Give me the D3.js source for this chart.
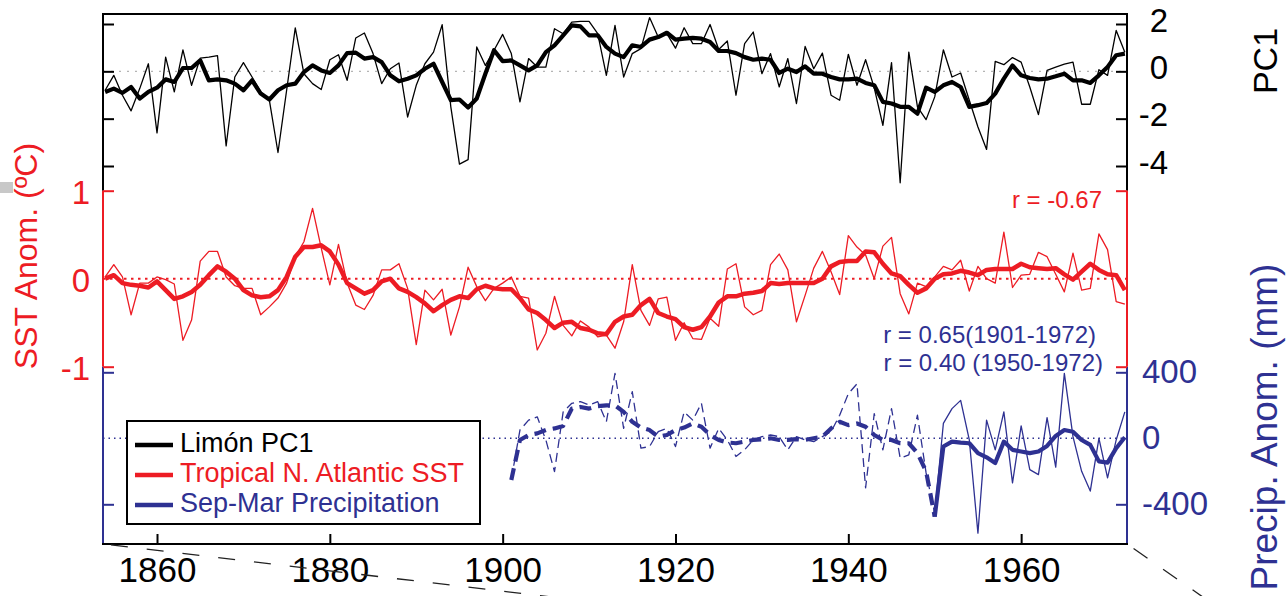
<!DOCTYPE html>
<html>
<head>
<meta charset="utf-8">
<script src="https://cdn.jsdelivr.net/npm/d3@7"></script>
<style>
  body { margin: 0; background: #fff; }
  svg { display: block; font-family: "Liberation Sans", Arial, sans-serif; }
</style>
</head>
<body>
<script>
// annual series start in 1854, precipitation record starts in 1901
const firstYear = 1854;
const precipFirstYear = 1901;
const precipSolidFrom = 1950;

const pc1Annual = [
  -0.80, -0.17, -1.01, -1.67, -0.73, 0.32, -2.60, 0.60, -0.87, 0.91,
  -0.59, 0.56, 0.60, 0.66, -3.15, -0.24, 0.37, -0.24, -0.87, -1.22,
  -3.43, -0.80, 1.84, -0.10, -0.52, -0.77, 0.49, 0.70, -0.38, 1.41,
  1.62, 0.75, -0.52, 0.11, 0.35, -1.93, -0.59, 0.32, 0.81, 1.97,
  -1.50, -3.92, -3.73, 1.03, 0.25, 0.89, 1.56, 0.75, -1.29, 0.54,
  0.18, 0.18, 1.80, 1.59, 2.08, 2.11, 2.11, 1.59, -0.17, 1.94,
  -0.24, 0.75, 0.96, 2.27, 1.45, 1.59, 0.98, 1.84, 1.17, 1.17,
  1.98, 0.92, 1.28, -1.01, 1.17, 1.66, -0.10, 0.75, -0.66, 0.54,
  -1.36, 1.05, 0.11, 0.77, -1.01, -1.22, 0.72, -0.59, 0.49, -0.70,
  -2.28, 0.37, -4.71, 0.81, -1.50, -2.04, -1.08, 0.91, -0.24, -0.07,
  -1.22, -2.35, -3.30, 0.42, 0.28, 0.58, 0.39, -0.66, -1.83, 0.04,
  0.18, 0.30, 0.39, -1.39, -1.39, 0.07, -0.17, 1.73, 0.81
];
const pc1Smooth = [
  -0.87, -0.73, -0.91, -0.66, -1.15, -0.87, -0.69, -0.34, -0.45, 0.14,
  0.14, 0.46, -0.38, -0.34, -0.38, -0.52, -0.80, -0.38, -0.94, -1.19,
  -0.80, -0.59, -0.52, -0.03, 0.25, 0.04, -0.07, 0.25, 0.77, 0.79,
  0.54, 0.60, 0.39, -0.17, -0.42, -0.31, -0.17, 0.11, 0.32, -0.45,
  -1.22, -1.19, -1.53, -1.15, -0.10, 0.89, 0.43, 0.46, 0.25, 0.04,
  0.25, 0.81, 1.10, 1.52, 1.94, 1.90, 1.52, 1.52, 1.03, 0.75,
  0.60, 1.10, 1.03, 1.34, 1.45, 1.63, 1.34, 1.38, 1.41, 1.38,
  1.24, 0.86, 0.86, 0.77, 0.60, 0.49, 0.54, 0.49, -0.07, 0.11,
  -0.03, 0.21, -0.10, -0.10, -0.24, -0.34, -0.34, -0.31, -0.49, -0.59,
  -1.29, -1.36, -1.50, -1.50, -1.79, -0.69, -0.87, -0.59, -0.45, -0.66,
  -1.50, -1.43, -1.34, -0.94, -0.31, 0.25, -0.17, -0.28, -0.34, -0.31,
  -0.21, -0.10, -0.38, -0.38, -0.49, -0.17, 0.18, 0.68, 0.75
];

const sstAnnual = [
  0.02, 0.16, 0.02, -0.41, -0.05, -0.05, 0.02, -0.01, -0.06, -0.70,
  -0.47, 0.20, 0.31, 0.31, 0.02, -0.08, -0.11, -0.11, -0.41, -0.32,
  -0.22, -0.05, 0.25, 0.42, 0.80, 0.35, -0.07, 0.39, -0.05, -0.30,
  -0.35, -0.19, 0.10, 0.10, 0.17, -0.11, -0.75, -0.13, -0.24, -0.12,
  -0.64, -0.32, 0.13, -0.09, -0.25, -0.11, -0.05, 0.02, -0.20, -0.22,
  -0.81, -0.62, -0.20, -0.53, -0.65, -0.48, -0.55, -0.66, -0.64, -0.79,
  -0.49, 0.16, -0.36, -0.53, -0.23, -0.21, -0.70, -0.50, -0.68, -0.69,
  -0.45, -0.54, 0.11, 0.17, -0.32, -0.41, -0.36, 0.16, 0.28, 0.10,
  -0.49, -0.19, 0.12, 0.31, 0.08, -0.18, 0.49, 0.36, 0.27, 0.00,
  0.37, 0.47, -0.17, -0.40, -0.05, -0.09, 0.02, 0.14, 0.10, 0.21,
  -0.14, 0.14, 0.00, -0.05, 0.53, -0.10, 0.04, 0.05, 0.30, 0.25,
  0.05, -0.15, 0.29, -0.13, -0.11, 0.51, 0.33, -0.26, -0.29
];
const sstSmooth = [
  0.00, 0.04, -0.05, -0.07, -0.08, -0.10, -0.03, -0.13, -0.23, -0.20,
  -0.15, -0.07, 0.04, 0.14, 0.08, 0.00, -0.13, -0.19, -0.21, -0.20,
  -0.13, 0.02, 0.25, 0.36, 0.36, 0.38, 0.31, 0.16, -0.05, -0.11,
  -0.17, -0.13, -0.03, 0.00, -0.11, -0.15, -0.21, -0.28, -0.37, -0.30,
  -0.24, -0.20, -0.22, -0.12, -0.08, -0.11, -0.12, -0.12, -0.22, -0.35,
  -0.39, -0.47, -0.56, -0.50, -0.49, -0.56, -0.58, -0.62, -0.63, -0.49,
  -0.43, -0.41, -0.30, -0.23, -0.39, -0.43, -0.46, -0.55, -0.58, -0.55,
  -0.43, -0.27, -0.20, -0.20, -0.17, -0.16, -0.14, -0.05, -0.06, -0.05,
  -0.05, -0.05, -0.05, 0.00, 0.14, 0.19, 0.20, 0.20, 0.31, 0.30,
  0.17, 0.06, 0.03, -0.07, -0.16, -0.11, 0.00, 0.05, 0.06, 0.09,
  0.07, 0.04, 0.10, 0.11, 0.11, 0.11, 0.17, 0.13, 0.12, 0.11,
  0.12, 0.05, -0.01, 0.08, 0.17, 0.10, 0.05, 0.04, -0.13
];

const precipAnnual = [
  -250, 50, 110, 130, -10, -202, 160, 212, 222, 202,
  222, 100, 394, 60, 283, -60, -50, 40, 60, -50,
  160, 110, 212, -60, 60, -10, -110, -70, -10, 10,
  20, 10, -70, 10, -10, -20, 10, 40, 140, 270,
  330, -300, 150, -70, 180, -120, -100, 140, -210, -455,
  90, 180, 230, -10, -575, 110, -70, 160, -270, 75,
  -190, -220, 125, -175, 394, 10, -200, -320, 0, -240,
  -10, 160
];
const precipSmooth = [
  -253, -10, 20, 30, 50, 60, 75, 180, 190, 180,
  195, 200, 200, 160, 100, 65, 50, 10, 20, 50,
  65, 90, 70, 20, -10, -25, -30, -20, -10, -6,
  0, -10, -10, -5, -10, 0, 10, 60, 100, 80,
  90, 70, 20, -10, -10, -30, -30, -90, -200, -475,
  -50, -20, -26, -30, -90, -115, -150, -20, -70, -80,
  -90, -80, -46, 14, 50, 40, -10, -40, -140, -147,
  -60, 6
];

const yearTicks = [1860, 1880, 1900, 1920, 1940, 1960];
const pc1Ticks = [2, 0, -2, -4];
const sstTicks = [1, -1];
const sstLabels = [1, 0, -1];
const precipTicks = [400, -400];
const precipLabels = [400, 0, -400];
const legendNames = ["Limón PC1", "Tropical N. Atlantic SST", "Sep-Mar Precipitation"];

const black = "#000", red = "#ed1c24", blue = "#2e3192";
const W = 1287, H = 596;
const plotLeft = 103, plotRight = 1127, plotTop = 14, plotBottom = 544;

const xScale = d3.scaleLinear([1853.75, 1972.25], [plotLeft, plotRight]);
const yPC = d3.scaleLinear([-4, 2], [166, 24]);
const ySST = d3.scaleLinear([-1, 1], [366.7, 190.7]);
const yPre = d3.scaleLinear([-400, 400], [504.3, 372.3]);

const svg = d3.select("body").append("svg")
  .attr("width", W)
  .attr("height", H);

svg.append("rect").attr("width", W).attr("height", H).attr("fill", "#fff");

// little grey bar on the left edge
svg.append("rect").attr("x", 0).attr("y", 182).attr("width", 13).attr("height", 11).attr("fill", "#c8c8c8");

// zero reference lines
function zeroLine(y, color, dash, w) {
  svg.append("line")
    .attr("x1", plotLeft).attr("x2", plotRight)
    .attr("y1", y).attr("y2", y)
    .attr("stroke", color)
    .attr("stroke-width", w)
    .attr("stroke-dasharray", dash);
}
zeroLine(yPC(0), "#b4b4b4", "2,6", 1.4);
zeroLine(ySST(0), red, "2.5,4.5", 2);
zeroLine(yPre(0), blue, "1.5,4", 1.5);

function seriesLine(yScale, start) {
  return d3.line()
    .x((d, i) => xScale(start + i))
    .y(d => yScale(d));
}

function drawSeries(values, yScale, start, color, width, dash) {
  svg.append("path")
    .datum(values)
    .attr("d", seriesLine(yScale, start))
    .attr("fill", "none")
    .attr("stroke", color)
    .attr("stroke-width", width)
    .attr("stroke-linejoin", "round")
    .attr("stroke-dasharray", dash || null);
}

drawSeries(pc1Annual, yPC, firstYear, black, 1.3);
drawSeries(pc1Smooth, yPC, firstYear, black, 4.2);
drawSeries(sstAnnual, ySST, firstYear, red, 1.3);
drawSeries(sstSmooth, ySST, firstYear, red, 4.5);

// precipitation: dashed up to 1950, solid after
let cut = precipSolidFrom - precipFirstYear;
drawSeries(precipAnnual.slice(0, cut + 1), yPre, precipFirstYear, blue, 1.3, "9,5");
drawSeries(precipSmooth.slice(0, cut + 1), yPre, precipFirstYear, blue, 4.2, "12,7");
drawSeries(precipAnnual.slice(cut), yPre, precipSolidFrom, blue, 1.3);
drawSeries(precipSmooth.slice(cut), yPre, precipSolidFrom, blue, 4.2);

// frame segments
function seg(x1, y1, x2, y2, color) {
  svg.append("line")
    .attr("x1", x1).attr("y1", y1).attr("x2", x2).attr("y2", y2)
    .attr("stroke", color).attr("stroke-width", 2);
}
seg(plotLeft - 1, plotTop, plotRight + 1, plotTop, black);
for (let x of [plotLeft, plotRight]) {
  seg(x, plotTop, x, ySST(1), black);
  seg(x, ySST(1), x, ySST(-1), red);
  seg(x, ySST(-1), x, plotBottom, blue);
}
seg(plotLeft - 1, plotBottom, plotRight + 1, plotBottom, black);

function styleAxis(g, color, size) {
  g.select(".domain").remove();
  g.selectAll(".tick line").attr("stroke", color).attr("stroke-width", 2);
  g.selectAll(".tick text").attr("fill", color).attr("font-size", size)
    .attr("font-family", "Liberation Sans, Arial, sans-serif");
}

// PC1 ticks
svg.append("g").attr("transform", `translate(${plotLeft},0)`)
  .call(d3.axisLeft(yPC).tickValues(pc1Ticks).tickSize(-11).tickFormat(""))
  .call(g => styleAxis(g, black, 33));
svg.append("g").attr("transform", `translate(${plotRight},0)`)
  .call(d3.axisRight(yPC).tickValues(pc1Ticks).tickSize(-11).tickFormat(d => String(d)))
  .call(g => styleAxis(g, black, 33))
  .call(g => g.selectAll(".tick text").attr("text-anchor", "end").attr("x", 41).attr("dy", "0.22em"));

// SST ticks and labels
for (let [x, ax] of [[plotLeft, d3.axisLeft], [plotRight, d3.axisRight]]) {
  svg.append("g").attr("transform", `translate(${x},0)`)
    .call(ax(ySST).tickValues(sstTicks).tickSize(-11).tickFormat(""))
    .call(g => styleAxis(g, red, 33));
}
svg.append("g").attr("transform", `translate(${plotLeft},0)`)
  .call(d3.axisLeft(ySST).tickValues(sstLabels).tickSize(0).tickPadding(13).tickFormat(d => String(d)))
  .call(g => styleAxis(g, red, 33))
  .call(g => g.selectAll(".tick text").attr("dy", "0.4em"));

// precipitation ticks and labels
for (let [x, ax] of [[plotLeft, d3.axisLeft], [plotRight, d3.axisRight]]) {
  svg.append("g").attr("transform", `translate(${x},0)`)
    .call(ax(yPre).tickValues(precipTicks).tickSize(-11).tickFormat(""))
    .call(g => styleAxis(g, blue, 33));
}
svg.append("g").attr("transform", `translate(${plotRight},0)`)
  .call(d3.axisRight(yPre).tickValues(precipLabels).tickSize(0).tickPadding(15).tickFormat(d => String(d)))
  .call(g => styleAxis(g, blue, 33))
  .call(g => g.selectAll(".tick text").attr("dy", "0.3em"));

// year axis
svg.append("g").attr("transform", `translate(0,${plotBottom})`)
  .call(d3.axisBottom(xScale).tickValues(yearTicks).tickSize(-10).tickFormat(d => String(d)))
  .call(g => styleAxis(g, black, 35))
  .call(g => g.selectAll(".tick text").attr("y", 38).attr("dy", 0));

// axis titles
function vTitle(x, y, text, color, size) {
  svg.append("text")
    .attr("transform", `translate(${x},${y}) rotate(-90)`)
    .attr("text-anchor", "middle")
    .attr("font-size", size)
    .attr("fill", color)
    .text(text);
}
vTitle(37, 256, "SST Anom. (ºC)", red, 32);
vTitle(1277, 61, "PC1", black, 34);
vTitle(1277, 427, "Precip. Anom. (mm)", blue, 37);

// correlation notes
function note(x, y, text, color) {
  svg.append("text")
    .attr("x", x).attr("y", y)
    .attr("text-anchor", "end")
    .attr("font-size", 24)
    .attr("fill", color)
    .text(text);
}
note(1102, 208, "r = -0.67", red);
note(1096, 343, "r = 0.65(1901-1972)", blue);
note(1103, 371, "r = 0.40 (1950-1972)", blue);

// legend
let legendColors = [black, red, blue];
let legend = svg.append("g");
legend.append("rect")
  .attr("x", 127).attr("y", 421)
  .attr("width", 353).attr("height", 103)
  .attr("fill", "#fff")
  .attr("stroke", black)
  .attr("stroke-width", 2);
let item = legend.selectAll(".item")
  .data(legendNames)
  .enter()
  .append("g")
  .attr("transform", (d, i) => `translate(0, ${452 + i * 30})`);
item.append("line")
  .attr("x1", 135).attr("x2", 173)
  .attr("y1", -7).attr("y2", -7)
  .attr("stroke", (d, i) => legendColors[i])
  .attr("stroke-width", 4.5);
item.append("text")
  .attr("x", 180)
  .attr("font-size", 27)
  .attr("fill", (d, i) => legendColors[i])
  .text(d => d);

// dashed zoom guides below the axis
function guide(x1, y1, x2, y2) {
  svg.append("line")
    .attr("x1", x1).attr("y1", y1).attr("x2", x2).attr("y2", y2)
    .attr("stroke", "#222")
    .attr("stroke-width", 1.3)
    .attr("stroke-dasharray", "17,19")
    .attr("stroke-dashoffset", -8);
}
guide(plotLeft, plotBottom, 560, 598);
guide(plotRight, plotBottom, 1210, 602);
</script>
</body>
</html>
